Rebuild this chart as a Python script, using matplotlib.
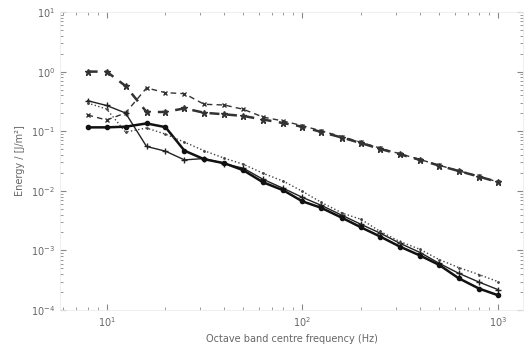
import matplotlib
matplotlib.use('Agg')
import matplotlib.pyplot as plt
import numpy as np

# third-octave band centres (Hz)
freq = [8, 10, 12.5, 16, 20, 25, 31.5, 40, 50, 63, 80,
        100, 125, 160, 200, 250, 315, 400, 500, 630, 800, 1000]

# thick dashed, star markers
series_a = [1.0, 1.0, 0.574, 0.21, 0.21, 0.242, 0.204, 0.192, 0.18, 0.157, 0.137,
            0.119, 0.097, 0.078, 0.063, 0.0505, 0.041, 0.033, 0.0265, 0.0215, 0.0173, 0.014]
# thin dashed, x markers
series_b = [0.187, 0.154, 0.202, 0.532, 0.443, 0.426, 0.283, 0.275, 0.233, 0.173, 0.148,
            0.124, 0.101, 0.081, 0.065, 0.052, 0.0418, 0.0335, 0.0268, 0.0217, 0.0175, 0.0141]
# thin solid, plus markers
series_c = [0.325, 0.270, 0.202, 0.0555, 0.0462, 0.033, 0.0348, 0.0285, 0.0239, 0.0156, 0.0110,
            0.00778, 0.0057, 0.00387, 0.00273, 0.00195, 0.00132, 0.000922, 0.000609, 0.000413, 0.000294, 0.00022]
# thick solid, dot markers
series_d = [0.116, 0.116, 0.119, 0.135, 0.117, 0.0471, 0.0339, 0.029, 0.0221, 0.0139, 0.0102,
            0.00667, 0.00518, 0.00351, 0.00243, 0.00171, 0.00116, 0.00082, 0.000572, 0.000341, 0.000229, 0.000177]
# dotted
series_e = [0.297, 0.236, 0.0966, 0.113, 0.0893, 0.0655, 0.0471, 0.0352, 0.0279, 0.0197, 0.0145,
            0.00982, 0.0064, 0.00423, 0.00331, 0.00208, 0.00141, 0.00104, 0.000703, 0.000515, 0.000393, 0.000299]

fig = plt.figure(figsize=(5.29, 3.51), dpi=100)
ax = fig.add_axes([60 / 529, 1 - 310 / 351, 463 / 529, 298 / 351])

ax.loglog(freq, series_a, color='#333333', ls='--', lw=1.8, marker='*', ms=5, dashes=(4, 3))
ax.loglog(freq, series_b, color='#333333', ls='--', lw=1.0, marker='x', ms=3.5, dashes=(4, 3))
ax.loglog(freq, series_c, color='#222222', ls='-', lw=1.0, marker='+', ms=5)
ax.loglog(freq, series_d, color='#111111', ls='-', lw=1.8, marker='o', ms=3)
ax.loglog(freq, series_e, color='#444444', ls=':', lw=1.0, marker='.', ms=2)

ax.set_xlim(5.78, 1343)
ax.set_ylim(1e-4, 10)

ax.tick_params(which='both', direction='in', top=True, right=True, colors='#888888',
               labelcolor='#666666', labelsize=7)
ax.tick_params(which='major', length=4)
ax.tick_params(which='minor', length=2)
for s in ax.spines.values():
    s.set_color('#ececec')
    s.set_linewidth(0.6)

ax.set_xlabel('Octave band centre frequency (Hz)', fontsize=7, color='#666666')
ax.set_ylabel('Energy / [J/m²]', fontsize=7, color='#666666')

fig.savefig('out.png', dpi=100)
